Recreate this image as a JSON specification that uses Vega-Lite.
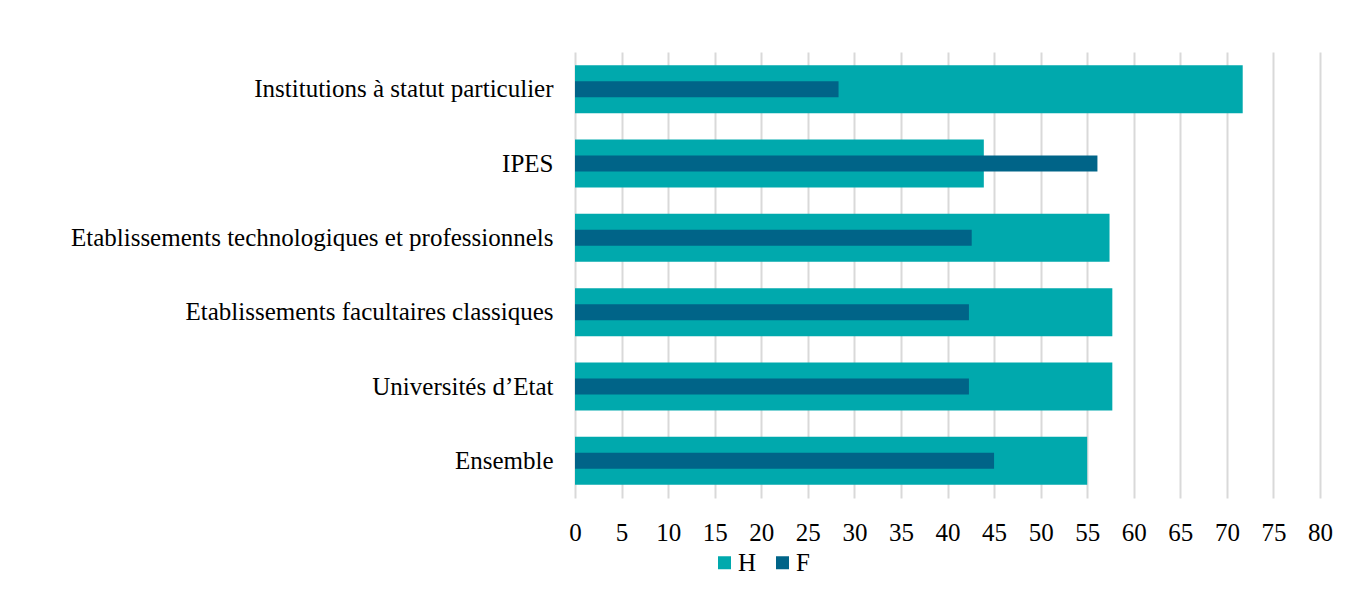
{
  "$schema": "https://vega.github.io/schema/vega-lite/v6.json",
  "width": 745,
  "height": 446,
  "autosize": {"type": "none"},
  "padding": {"left": 575, "top": 52, "right": 41, "bottom": 101},
  "background": "white",
  "config": {"view": {"stroke": null}},
  "data": {
    "values": [
      {"cat": "Institutions à statut particulier", "serie": "H", "value": 71.7},
      {"cat": "Institutions à statut particulier", "serie": "F", "value": 28.3},
      {"cat": "IPES", "serie": "H", "value": 43.9},
      {"cat": "IPES", "serie": "F", "value": 56.1},
      {"cat": "Etablissements technologiques et professionnels", "serie": "H", "value": 57.4},
      {"cat": "Etablissements technologiques et professionnels", "serie": "F", "value": 42.6},
      {"cat": "Etablissements facultaires classiques", "serie": "H", "value": 57.7},
      {"cat": "Etablissements facultaires classiques", "serie": "F", "value": 42.3},
      {"cat": "Universités d’Etat", "serie": "H", "value": 57.7},
      {"cat": "Universités d’Etat", "serie": "F", "value": 42.3},
      {"cat": "Ensemble", "serie": "H", "value": 55.0},
      {"cat": "Ensemble", "serie": "F", "value": 45.0}
    ]
  },
  "encoding": {
    "y": {
      "field": "cat",
      "type": "nominal",
      "sort": ["Institutions à statut particulier", "IPES", "Etablissements technologiques et professionnels", "Etablissements facultaires classiques", "Universités d’Etat", "Ensemble"],
      "scale": {"paddingInner": 0, "paddingOuter": 0},
      "axis": {
        "title": null,
        "domain": false,
        "ticks": false,
        "grid": false,
        "labelPadding": 22,
        "labelFont": "Liberation Serif",
        "labelFontSize": 25,
        "labelColor": "#000000",
        "labelLimit": 0
      }
    },
    "x": {
      "field": "value",
      "type": "quantitative",
      "scale": {"domain": [0, 80], "nice": false},
      "axis": {
        "title": null,
        "values": [0, 5, 10, 15, 20, 25, 30, 35, 40, 45, 50, 55, 60, 65, 70, 75, 80],
        "domain": false,
        "ticks": false,
        "grid": true,
        "gridColor": "#D9D9D9",
        "gridWidth": 2,
        "labelPadding": 22,
        "labelFlush": false,
        "labelOverlap": false,
        "labelFont": "Liberation Serif",
        "labelFontSize": 25,
        "labelColor": "#000000"
      }
    },
    "color": {
      "field": "serie",
      "type": "nominal",
      "scale": {"domain": ["H", "F"], "range": ["#00A9AD", "#006488"]},
      "legend": {
        "title": null,
        "orient": "none",
        "direction": "horizontal",
        "legendX": 137,
        "legendY": 498,
        "symbolType": "square",
        "symbolSize": 169,
        "symbolStrokeWidth": 0,
        "labelFont": "Liberation Serif",
        "labelFontSize": 25,
        "labelColor": "#000000",
        "labelOffset": 1,
        "columnPadding": 13
      }
    }
  },
  "layer": [
    {
      "transform": [{"filter": "datum.serie === 'H'"}],
      "mark": {"type": "bar", "height": {"band": 0.646}}
    },
    {
      "transform": [{"filter": "datum.serie === 'F'"}],
      "mark": {"type": "bar", "height": {"band": 0.215}}
    }
  ]
}
